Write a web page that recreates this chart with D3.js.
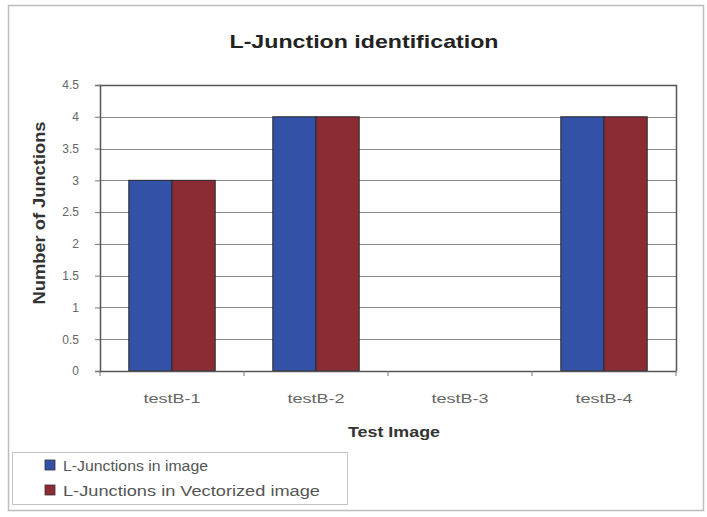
<!DOCTYPE html>
<html>
<head>
<meta charset="utf-8">
<script src="https://cdn.jsdelivr.net/npm/d3@7"></script>
<style>
  html, body { margin: 0; padding: 0; background: #fff; }
  svg { display: block; font-family: "Liberation Sans", Arial, sans-serif; }
</style>
</head>
<body>
<svg id="chart" width="707" height="517"></svg>
<script>
// Test images on the x axis
const categories = ["testB-1", "testB-2", "testB-3", "testB-4"];
// Series names
const seriesNames = ["L-Junctions in image", "L-Junctions in Vectorized image"];
// Junction counts per test image
const junctionsInImage = [3, 4, 0, 4];
const junctionsInVectorized = [3, 4, 0, 4];
// Y axis tick values
const yTicks = [0, 0.5, 1, 1.5, 2, 2.5, 3, 3.5, 4, 4.5];

const colors = ["#3351a6", "#8b2b34"];
const series = [junctionsInImage, junctionsInVectorized];

const svg = d3.select("#chart");
const plot = { left: 100, right: 676, top: 85, bottom: 371 };

// Outer chart frame
svg.append("rect")
  .attr("x", 8.5).attr("y", 5.5).attr("width", 695).attr("height", 505)
  .attr("fill", "#fff").attr("stroke", "#bdbdbd").attr("stroke-width", 1.5);

const x = d3.scaleBand().domain(categories).range([plot.left, plot.right]).padding(0);
const groupWidth = x.bandwidth() * 0.6;
const xInner = d3.scaleBand().domain(d3.range(series.length)).range([0, groupWidth]).padding(0);
const y = d3.scaleLinear().domain([0, 4.5]).range([plot.bottom, plot.top]);

// Gridlines
svg.append("g")
  .selectAll("line")
  .data(yTicks.filter(t => t > 0))
  .join("line")
  .attr("x1", plot.left).attr("x2", plot.right)
  .attr("y1", d => Math.round(y(d)) + 0.5).attr("y2", d => Math.round(y(d)) + 0.5)
  .attr("stroke", "#8a8a8a").attr("stroke-width", 1);

// Plot border on top and right
svg.append("path")
  .attr("d", `M${plot.left},${plot.top + 0.5}H${plot.right + 0.5}V${plot.bottom}`)
  .attr("fill", "none").attr("stroke", "#555").attr("stroke-width", 1.5);

// Bars
const groups = svg.append("g")
  .selectAll("g")
  .data(categories)
  .join("g")
  .attr("transform", d => `translate(${x(d) + (x.bandwidth() - groupWidth) / 2},0)`);

groups.selectAll("rect")
  .data((c, i) => series.map((s, k) => ({ k, v: s[i] })).filter(d => d.v > 0))
  .join("rect")
  .attr("x", d => xInner(d.k))
  .attr("width", xInner.bandwidth())
  .attr("y", d => y(d.v))
  .attr("height", d => y(0) - y(d.v))
  .attr("fill", d => colors[d.k])
  .attr("stroke", "#2a2a2a").attr("stroke-width", 1);

// Y axis
const yAxis = d3.axisLeft(y).tickValues(yTicks).tickSize(5).tickPadding(16)
  .tickFormat(d => String(d));
const gy = svg.append("g").attr("transform", `translate(${plot.left},0)`).call(yAxis);
gy.select(".domain").attr("stroke", "#555").attr("stroke-width", 1.5);
gy.selectAll(".tick line").attr("stroke", "#777");
gy.selectAll(".tick text")
  .attr("font-size", 12).attr("fill", "#666")
  .attr("font-family", "'Liberation Sans', Arial, sans-serif");

// X axis with tick marks at category boundaries
const gx = svg.append("g").attr("transform", `translate(0,${plot.bottom})`);
gx.append("line")
  .attr("x1", plot.left).attr("x2", plot.right + 0.5)
  .attr("y1", 0.5).attr("y2", 0.5)
  .attr("stroke", "#555").attr("stroke-width", 1.5);
const bounds = categories.map(c => x(c)).concat([plot.right]);
gx.selectAll("line.tk")
  .data(bounds)
  .join("line")
  .attr("class", "tk")
  .attr("x1", d => d).attr("x2", d => d)
  .attr("y1", 0).attr("y2", 5)
  .attr("stroke", "#777");
gx.selectAll("text")
  .data(categories)
  .join("text")
  .attr("x", c => x(c) + x.bandwidth() / 2)
  .attr("y", 32)
  .attr("text-anchor", "middle")
  .attr("font-size", 13).attr("fill", "#666")
  .attr("textLength", 57).attr("lengthAdjust", "spacingAndGlyphs")
  .text(c => c);

// Title
svg.append("text")
  .attr("x", 364).attr("y", 48)
  .attr("text-anchor", "middle")
  .attr("font-size", 19).attr("font-weight", "bold").attr("fill", "#222")
  .attr("textLength", 269).attr("lengthAdjust", "spacingAndGlyphs")
  .text("L-Junction identification");

// Axis titles
svg.append("text")
  .attr("x", 394).attr("y", 437)
  .attr("text-anchor", "middle")
  .attr("font-size", 15).attr("font-weight", "bold").attr("fill", "#333")
  .attr("textLength", 92).attr("lengthAdjust", "spacingAndGlyphs")
  .text("Test Image");

svg.append("text")
  .attr("transform", "translate(45,213) rotate(-90)")
  .attr("text-anchor", "middle")
  .attr("font-size", 16).attr("font-weight", "bold").attr("fill", "#333")
  .attr("textLength", 183).attr("lengthAdjust", "spacingAndGlyphs")
  .text("Number of Junctions");

// Legend
const legend = svg.append("g");
legend.append("rect")
  .attr("x", 12.5).attr("y", 452.5).attr("width", 335).attr("height", 52)
  .attr("fill", "#fff").attr("stroke", "#c4c4c4").attr("stroke-width", 1);
const items = legend.selectAll("g.item")
  .data(seriesNames)
  .join("g")
  .attr("class", "item")
  .attr("transform", (d, i) => `translate(45,${465 + i * 25})`);
items.append("rect")
  .attr("x", 0).attr("y", -5).attr("width", 10).attr("height", 10)
  .attr("fill", (d, i) => colors[i]).attr("stroke", "#333").attr("stroke-width", 0.8);
items.append("text")
  .attr("x", 18).attr("y", 5.5)
  .attr("font-size", 14).attr("fill", "#555")
  .attr("textLength", (d, i) => i === 0 ? 145 : 257)
  .attr("lengthAdjust", "spacingAndGlyphs")
  .text(d => d);
</script>
</body>
</html>
